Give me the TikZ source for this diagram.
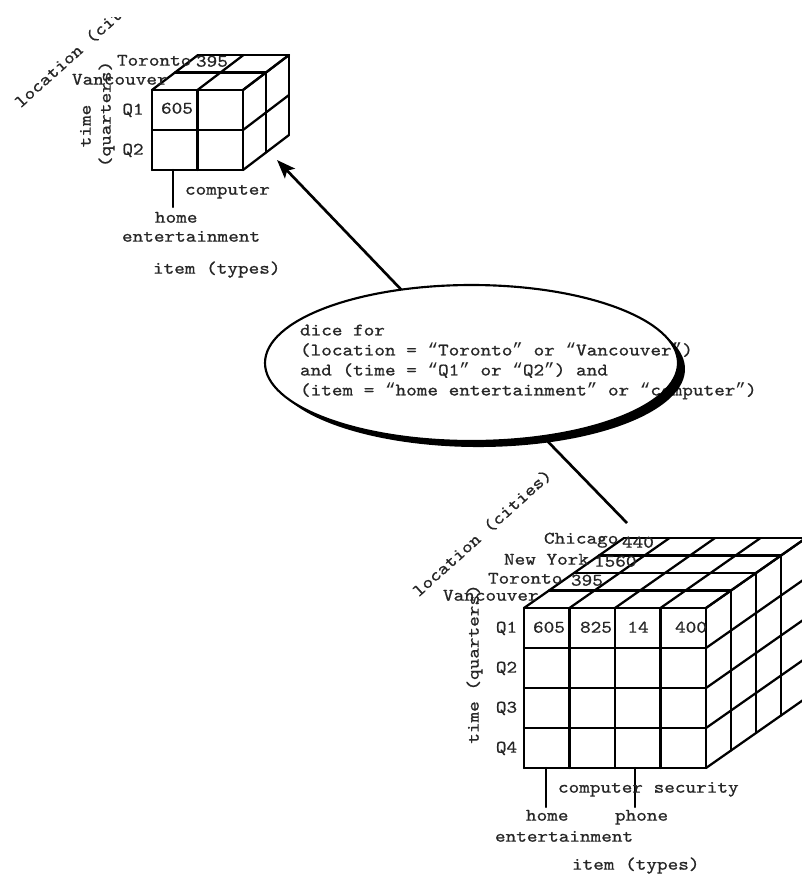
\documentclass[tikz,border=0pt]{standalone}
\usepackage{fontspec}
\setmonofont{lmmono10-regular.otf}[FakeStretch=1.15, FakeBold=0.8]
\newfontfamily\quotefont{Liberation Mono}
\newcommand{\oq}{{\quotefont “}}
\newcommand{\cq}{{\quotefont ”}}
\usetikzlibrary{arrows.meta,shapes.geometric}
\begin{document}
\begin{tikzpicture}[x=0.75pt,y=-0.75pt,
  cubeline/.style={line width=1.7pt, line cap=round},
  lblbase/.style={inner sep=0pt, outer sep=0pt, font=\ttfamily\fontsize{13.2}{15}\selectfont, text=black!85},
  lbl/.style={lblbase, text height=0.6em, text depth=0.2em},
  conn/.style={line width=2pt}]
\useasboundingbox (0,0) rectangle (802,875);
\clip (0,0) rectangle (802,875);

% ---------------- small cube ----------------
\begin{scope}[cubeline]
\foreach \i in {0,1,2} {
  \draw (152+45.5*\i,90) -- ++(0,80);
  \draw (152,90+40*\i) -- ++(91,0);
  \draw (152+45.5*\i,90) -- ++(46,-35);
  \draw (243,90+40*\i) -- ++(46,-35);
}
\foreach \k in {1,2} {
  \draw (152+23*\k,90-17.5*\k) -- ++(91,0);
  \draw (243+23*\k,90-17.5*\k) -- ++(0,80);
}
\draw (173,170) -- (173,207);
\end{scope}

\node[lbl, anchor=west] (sTor) at (117,63) {Toronto};
\node[lbl, anchor=west] (s395) at (196,64) {395};
\node[lbl, anchor=west] (sVan) at (72,82) {Vancouver};
\node[lbl] (sQ1) at (133,112) {Q1};
\node[lbl] (sQ2) at (133,152) {Q2};
\node[lbl] (s605) at (177,111) {605};
\node[lbl, rotate=90] (stime) at (88,126) {time};
\node[lbl, rotate=90] (squart) at (108,114) {(quarters)};
\node[lbl, anchor=west] (scomp) at (185,192) {computer};
\node[lbl, anchor=west] (shome) at (155,220) {home};
\node[lbl, anchor=west] (sent) at (122,239) {entertainment};
\node[lbl, anchor=west] (sitem) at (153,271) {item (types)};
\begin{scope}
\clip (0,17) rectangle (300,300);
\node[lbl, rotate=42] (sloc) at (86,46) {location (cities)};
\end{scope}

% ---------------- big cube ----------------
\begin{scope}[cubeline]
\foreach \i in {0,...,4} {
  \draw (524+45.5*\i,608) -- ++(0,160);
  \draw (524,608+40*\i) -- ++(182,0);
  \draw (524+45.5*\i,608) -- ++(100,-70);
  \draw (706,608+40*\i) -- ++(100,-70);
}
\foreach \k in {1,...,4} {
  \draw (524+25*\k,608-17.5*\k) -- ++(182,0);
  \draw (706+25*\k,608-17.5*\k) -- ++(0,160);
}
\draw (546,768) -- (546,807);
\draw (635,768) -- (635,807);
\end{scope}

\node[lbl, anchor=west] (bChi) at (544,541) {Chicago};
\node[lbl, anchor=west] (b440) at (622,545) {440};
\node[lbl, anchor=west] (bNY) at (504,562) {New York};
\node[lbl, anchor=west] (b1560) at (594,564) {1560};
\node[lbl, anchor=west] (bTor) at (488,581) {Toronto};
\node[lbl, anchor=west] (b395) at (571,583) {395};
\node[lbl, anchor=west] (bVan) at (443,598) {Vancouver};
\node[lbl] (bQ1) at (506.5,630) {Q1};
\node[lbl] (bQ2) at (506.5,670) {Q2};
\node[lbl] (bQ3) at (506.5,710) {Q3};
\node[lbl] (bQ4) at (506.5,750) {Q4};
\node[lbl] (b605) at (549,630) {605};
\node[lbl] (b825) at (596,630) {825};
\node[lbl] (b14) at (638,630) {14};
\node[lbl] (b400) at (691,630) {400};
\node[lbl, rotate=90] (btime) at (476,664) {time (quarters)};
\node[lbl, rotate=42] (bloc) at (484,535) {location (cities)};
\node[lbl, anchor=west] (bcs) at (558,790) {computer security};
\node[lbl, anchor=west] (bhome) at (526,818) {home};
\node[lbl, anchor=west] (bphone) at (615,818) {phone};
\node[lbl, anchor=west] (bent) at (495,839) {entertainment};
\node[lbl, anchor=west] (bitem) at (572,867) {item (types)};

% ---------------- dice ellipse ----------------
\node[lblbase, anchor=west, align=left] (dicetext) at (300,362)
  {dice for\\(location = \oq Toronto\cq{} or \oq Vancouver\cq)\\and (time = \oq Q1\cq{} or \oq Q2\cq) and\\(item = \oq home entertainment\cq{} or \oq computer\cq)};
\node[ellipse, draw, line width=1.6pt, minimum width=413*0.75pt, minimum height=156*0.75pt, inner sep=0pt, outer sep=0pt] (dice) at (471.5,363) {};
\fill (471.5,363) ++(-25:206.5 and 78) arc[start angle=-25, end angle=160, x radius=206.5, y radius=78]
  -- ++(7,6) arc[start angle=160, end angle=-25, x radius=206.5, y radius=78] -- cycle;

\coordinate (tipS) at (277,160);
\coordinate (bigTop) at (627,523);
\draw[conn, -{Stealth[length=14pt, width=10.5pt, inset=3pt]}] (dice) -- (tipS);
\draw[conn] (bigTop) -- (dice);
\end{tikzpicture}
\end{document}
